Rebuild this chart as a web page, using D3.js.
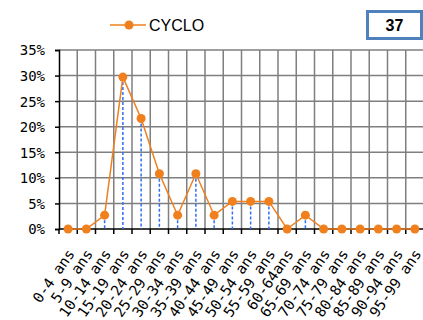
<!DOCTYPE html>
<html><head><meta charset="utf-8">
<script src="https://cdn.jsdelivr.net/npm/d3@7"></script>
<style>body{margin:0;background:#fff;}svg{display:block;}</style>
</head><body>
<script>
const categories = ["0-4 ans","5-9 ans","10-14 ans","15-19 ans","20-24 ans","25-29 ans","30-34 ans","35-39 ans","40-44 ans","45-49 ans","50-54 ans","55-59 ans","60-64ans","65-69 ans","70-74 ans","75-79 ans","80-84 ans","85-89 ans","90-94 ans","95-99 ans"];
const values = [0,0,2.7,29.7,21.6,10.8,2.7,10.8,2.7,5.4,5.4,5.4,0,2.7,0,0,0,0,0,0];
const yTicks = [0,5,10,15,20,25,30,35];
const seriesName = "CYCLO";
const totalLabel = "37";

(function(){
const W=423,H=320;
const svg=d3.select("body").append("svg").attr("width",W).attr("height",H);
const mL=59,mR=424,mT=50,mB=229;
const x=d3.scaleBand().domain(categories).range([mL,mR]).padding(0);
const y=d3.scaleLinear().domain([0,35]).range([mB,mT]);
const orange="#f07f1e", blue="#2f6ff2", grid="#7f7f7f";

svg.append("g").selectAll("line").data(yTicks.filter(d=>d>0)).join("line")
 .attr("x1",mL).attr("x2",mR).attr("y1",d=>y(d)).attr("y2",d=>y(d))
 .attr("stroke",grid).attr("stroke-width",1.5);
svg.append("g").selectAll("line").data(categories.slice(1)).join("line")
 .attr("x1",d=>x(d)).attr("x2",d=>x(d)).attr("y1",mT).attr("y2",mB)
 .attr("stroke",grid).attr("stroke-width",1.5);

const yAxis=d3.axisLeft(y).tickValues(yTicks).tickSize(4).tickFormat(d=>d+"%");
const gy=svg.append("g").attr("transform",`translate(${mL},0)`).call(yAxis);
gy.select(".domain").attr("stroke","#000").attr("stroke-width",1.5);
gy.selectAll(".tick line").attr("stroke","#000").attr("stroke-width",1.5);
gy.selectAll("text").attr("font-family","DejaVu Sans Mono").attr("font-size",14).attr("fill","#000").attr("x",-14).attr("dy","0.35em");

svg.append("line").attr("x1",mL).attr("x2",mR).attr("y1",mB).attr("y2",mB).attr("stroke","#000").attr("stroke-width",1.5);
svg.append("g").selectAll("line").data(categories).join("line")
 .attr("x1",d=>x(d)).attr("x2",d=>x(d)).attr("y1",mB).attr("y2",mB+5)
 .attr("stroke","#000").attr("stroke-width",1.5);
svg.append("g").selectAll("text").data(categories).join("text")
 .attr("transform",d=>`translate(${x(d)+x.bandwidth()/2+3},${mB+22}) rotate(-55)`)
 .attr("text-anchor","end").attr("dy","0.35em")
 .attr("font-family","DejaVu Sans Mono").attr("font-size",14.5).attr("fill","#000")
 .text(d=>d);

svg.append("g").selectAll("line").data(values.map((v,i)=>({v,c:categories[i]})).filter(d=>d.v>0)).join("line")
 .attr("x1",d=>x(d.c)+x.bandwidth()/2).attr("x2",d=>x(d.c)+x.bandwidth()/2)
 .attr("y1",d=>y(d.v)).attr("y2",mB)
 .attr("stroke",blue).attr("stroke-width",1.5).attr("stroke-dasharray","3,2");

const line=d3.line().x((d,i)=>x(categories[i])+x.bandwidth()/2).y(d=>y(d));
svg.append("path").datum(values).attr("d",line).attr("fill","none").attr("stroke",orange).attr("stroke-width",1.5);
svg.append("g").selectAll("circle").data(values).join("circle")
 .attr("cx",(d,i)=>x(categories[i])+x.bandwidth()/2).attr("cy",d=>y(d)).attr("r",4.5).attr("fill",orange);

svg.append("line").attr("x1",110).attr("x2",146).attr("y1",25).attr("y2",25).attr("stroke",orange).attr("stroke-width",1.5);
svg.append("circle").attr("cx",129).attr("cy",25).attr("r",4.5).attr("fill",orange);
svg.append("text").attr("x",149).attr("y",31).attr("font-family","Liberation Sans, Arial").attr("font-size",16).attr("fill","#000").text(seriesName);

svg.append("rect").attr("x",367.5).attr("y",11.5).attr("width",54).attr("height",27).attr("fill","#fff").attr("stroke","#4f81bd").attr("stroke-width",3);
svg.append("text").attr("x",394.5).attr("y",31).attr("text-anchor","middle").attr("font-family","Liberation Sans, Arial").attr("font-weight","bold").attr("font-size",16).attr("fill","#000").text(totalLabel);
})();
</script>
</body></html>
